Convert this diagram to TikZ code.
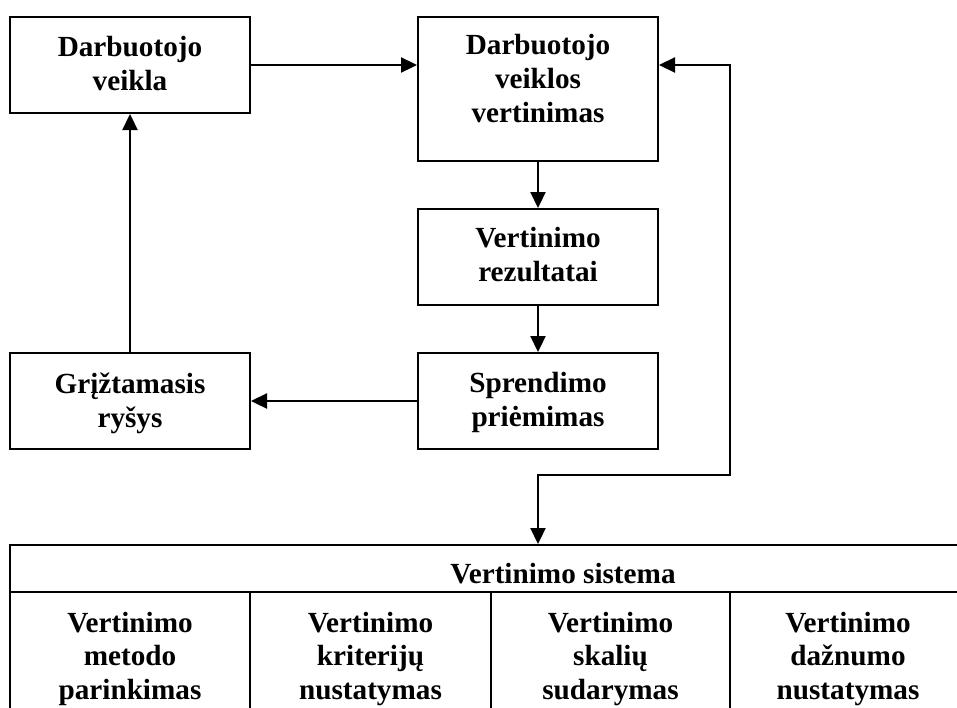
\documentclass[tikz,border=0pt]{standalone}
\usepackage{fontspec}
\setmainfont{Liberation Serif}
\usetikzlibrary{arrows.meta}
\begin{document}
\begin{tikzpicture}[x=1pt,y=-1pt,
  frame/.style={draw, line width=2pt, inner sep=0pt},
  txt/.style={font=\bfseries\fontsize{29.2}{34}\selectfont, align=center, anchor=base, inner sep=0pt},
  cell/.style={font=\bfseries\fontsize{29.2}{33.5}\selectfont, align=center, anchor=base, inner sep=0pt},
  tip/.tip={Triangle[length=16pt,width=15pt]},
  link/.style={line width=2.3pt, -tip},
  twoway/.style={line width=2.3pt, tip-tip}
]
\useasboundingbox (0,0) rectangle (957,707);
\clip (0,0) rectangle (957,707);

% process boxes
\node[frame, minimum width=240pt, minimum height=96pt]  (A) at (130,65)  {};
\node[frame, minimum width=240pt, minimum height=144pt] (B) at (538,89)  {};
\node[frame, minimum width=240pt, minimum height=96pt]  (C) at (538,257) {};
\node[frame, minimum width=240pt, minimum height=96pt]  (D) at (538,401) {};
\node[frame, minimum width=240pt, minimum height=96pt]  (E) at (130,401) {};

% box texts (anchored at the baseline of their last line)
\node[txt] (tA) at (130,90)  {Darbuotojo\\veikla};
\node[txt] (tB) at (538,122) {Darbuotojo\\veiklos\\vertinimas};
\node[txt] (tC) at (538,281) {Vertinimo\\rezultatai};
\node[txt] (tD) at (538,426) {Sprendimo\\priėmimas};
\node[txt] (tE) at (130,427) {Grįžtamasis\\ryšys};

% evaluation system table
\node[frame, minimum width=980pt, minimum height=47pt] (hdr) at (500,568.5) {};
\node[txt] (thdr) at (563,583) {Vertinimo sistema};
\node[frame, minimum width=240pt, minimum height=136pt] (c1) at (130,660)   {};
\node[frame, minimum width=241pt, minimum height=136pt] (c2) at (370.5,660) {};
\node[frame, minimum width=239pt, minimum height=136pt] (c3) at (610.5,660) {};
\node[frame, minimum width=240pt, minimum height=136pt] (c4) at (850,660)   {};

\node[cell] (t1) at (130,699)   {Vertinimo\\metodo\\parinkimas};
\node[cell] (t2) at (370.5,699) {Vertinimo\\kriterijų\\nustatymas};
\node[cell] (t3) at (610.5,699) {Vertinimo\\skalių\\sudarymas};
\node[cell] (t4) at (848,699)   {Vertinimo\\dažnumo\\nustatymas};

% connectors
\draw[link] (A.east) -- (B.west |- A.east);
\draw[link] (B.south) -- (C.north);
\draw[link] (C.south) -- (D.north);
\draw[link] (D.west) -- (E.east);
\draw[link] (E.north) -- (A.south);
\coordinate (turn) at (730,475);
\draw[twoway] (B.east |- A.east) -| (turn) -| (hdr.north -| B.south);
\end{tikzpicture}
\end{document}
